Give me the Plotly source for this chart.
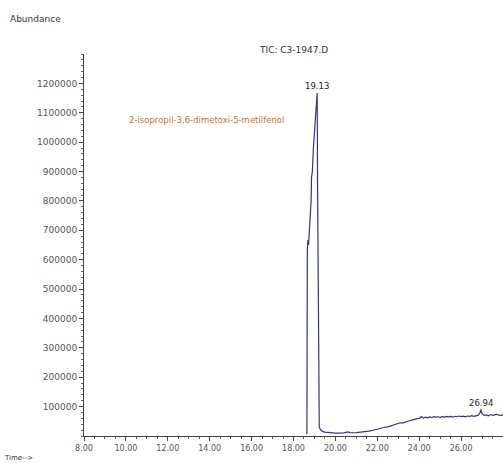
import plotly.graph_objects as go

# Retention time (min) and abundance
time_min = [18.60, 18.64, 18.66, 18.69, 18.72, 18.76, 18.81, 18.84, 18.86, 18.90,
            18.95, 19.00, 19.05, 19.10, 19.13, 19.15, 19.17, 19.19, 19.21, 19.23,
            19.28, 19.33, 19.40, 19.50, 19.60, 19.70,
            19.8, 19.9, 20.0, 20.1, 20.2, 20.3, 20.4, 20.5, 20.6, 20.7,
            20.8, 20.9, 21.0, 21.1, 21.2, 21.3, 21.4, 21.5, 21.6, 21.7,
            21.8, 21.9, 22.0, 22.1, 22.2, 22.3, 22.4, 22.5, 22.6, 22.7,
            22.8, 22.9, 23.0, 23.1, 23.2, 23.3, 23.4, 23.5, 23.6, 23.7,
            23.8, 23.9, 24.0, 24.1, 24.2, 24.3, 24.4, 24.5, 24.6, 24.7,
            24.8, 24.9, 25.0, 25.1, 25.2, 25.3, 25.4, 25.5, 25.6, 25.7,
            25.8, 25.9, 26.0, 26.1, 26.2, 26.3, 26.4, 26.5, 26.6, 26.7,
            26.8, 26.9, 26.94, 27.0, 27.1, 27.2, 27.3, 27.4, 27.5, 27.6,
            27.7, 27.8, 27.9, 28.0]
abundance = [8000, 9000, 633000, 667000, 650000, 700000, 724000, 800000, 881000, 900000,
             980000, 1041000, 1080000, 1140000, 1167000, 837000, 640000, 463000, 120000, 31000,
             22000, 18000, 15000, 13000, 12000, 11000,
             10500, 10000, 9500, 9800, 9500, 10000, 10500, 12500, 14000, 11500,
             10500, 11000, 11500, 12000, 12500, 13000, 14000, 15000, 16500, 18000,
             20000, 22000, 24000, 26000, 27500, 29000, 30500, 31000, 33000, 36000,
             38000, 40000, 41500, 45000, 44000, 47000, 49000, 51000, 53000, 55500,
             57000, 59000, 60000, 66000, 61000, 64000, 62000, 65000, 63000, 66000,
             64000, 65500, 63500, 66000, 64500, 67000, 65000, 66500, 64000, 67000,
             65500, 68000, 66000, 67500, 65500, 68000, 66500, 69000, 67000, 68500,
             70000, 78000, 90000, 76000, 70000, 72000, 69000, 73000, 70000, 72000,
             74000, 71000, 70000, 72000]

x_ticks = [8, 10, 12, 14, 16, 18, 20, 22, 24, 26]
x_ticktext = ["8.00", "10.00", "12.00", "14.00", "16.00", "18.00", "20.00", "22.00", "24.00", "26.00"]
y_ticks = [100000, 200000, 300000, 400000, 500000, 600000, 700000, 800000, 900000,
           1000000, 1100000, 1200000]
y_ticktext = [str(v) for v in y_ticks]

peak_labels = [("19.13", 19.13, 1167000), ("26.94", 26.94, 90000)]
compound = "2-isopropil-3,6-dimetoxi-5-metilfenol"
title = "TIC: C3-1947.D"

FONT = "DejaVu Sans"

fig = go.Figure()
fig.add_trace(go.Scatter(x=time_min, y=abundance, mode="lines",
                         line=dict(color="#33338c", width=1.2),
                         hoverinfo="x+y", showlegend=False))

for txt, px, py in peak_labels:
    fig.add_annotation(x=px, y=py, text=txt, showarrow=False, yanchor="bottom",
                       yshift=0, font=dict(family=FONT, size=8.5, color="#222"))

fig.add_annotation(x=13.86, y=1075000, text=compound, showarrow=False,
                   font=dict(family=FONT, size=8.5, color="#c8742f"))
fig.add_annotation(x=0.5, xref="paper", y=1.0105, yref="paper", yanchor="middle",
                   text=title, showarrow=False,
                   font=dict(family=FONT, size=9, color="#333"))
fig.add_annotation(x=-0.181, xref="paper", xanchor="left", y=1.0916, yref="paper",
                   yanchor="middle", text="Abundance", showarrow=False,
                   font=dict(family=FONT, size=9, color="#333"))
fig.add_annotation(x=-0.196, xref="paper", xanchor="left", y=-0.0576, yref="paper",
                   yanchor="middle", text="Time-->", showarrow=False,
                   font=dict(family=FONT, size=7, color="#333"))

fig.update_layout(
    width=503, height=463,
    margin=dict(l=84, r=0, t=54, b=27),
    paper_bgcolor="white", plot_bgcolor="white",
    xaxis=dict(range=[8, 28], tickvals=x_ticks, ticktext=x_ticktext,
               showgrid=False, zeroline=False, showline=True, linecolor="#444",
               linewidth=1, ticks="outside", ticklen=4, tickcolor="#444",
               tickfont=dict(family=FONT, size=8, color="#555"),
               minor=dict(ticks="outside", ticklen=2, dtick=0.5, tick0=8, tickcolor="#666")),
    yaxis=dict(range=[0, 1300000], tickvals=y_ticks, ticktext=y_ticktext,
               showgrid=False, zeroline=False, showline=True, linecolor="#444",
               linewidth=1, ticks="outside", ticklen=4, tickcolor="#444",
               tickfont=dict(family=FONT, size=9, color="#555"),
               minor=dict(ticks="outside", ticklen=2, dtick=20000, tick0=0, tickcolor="#666")),
)

fig.write_html("out.html", config={"displayModeBar": False},
               post_script="document.body.style.margin='0px';document.body.style.overflow='hidden';")
